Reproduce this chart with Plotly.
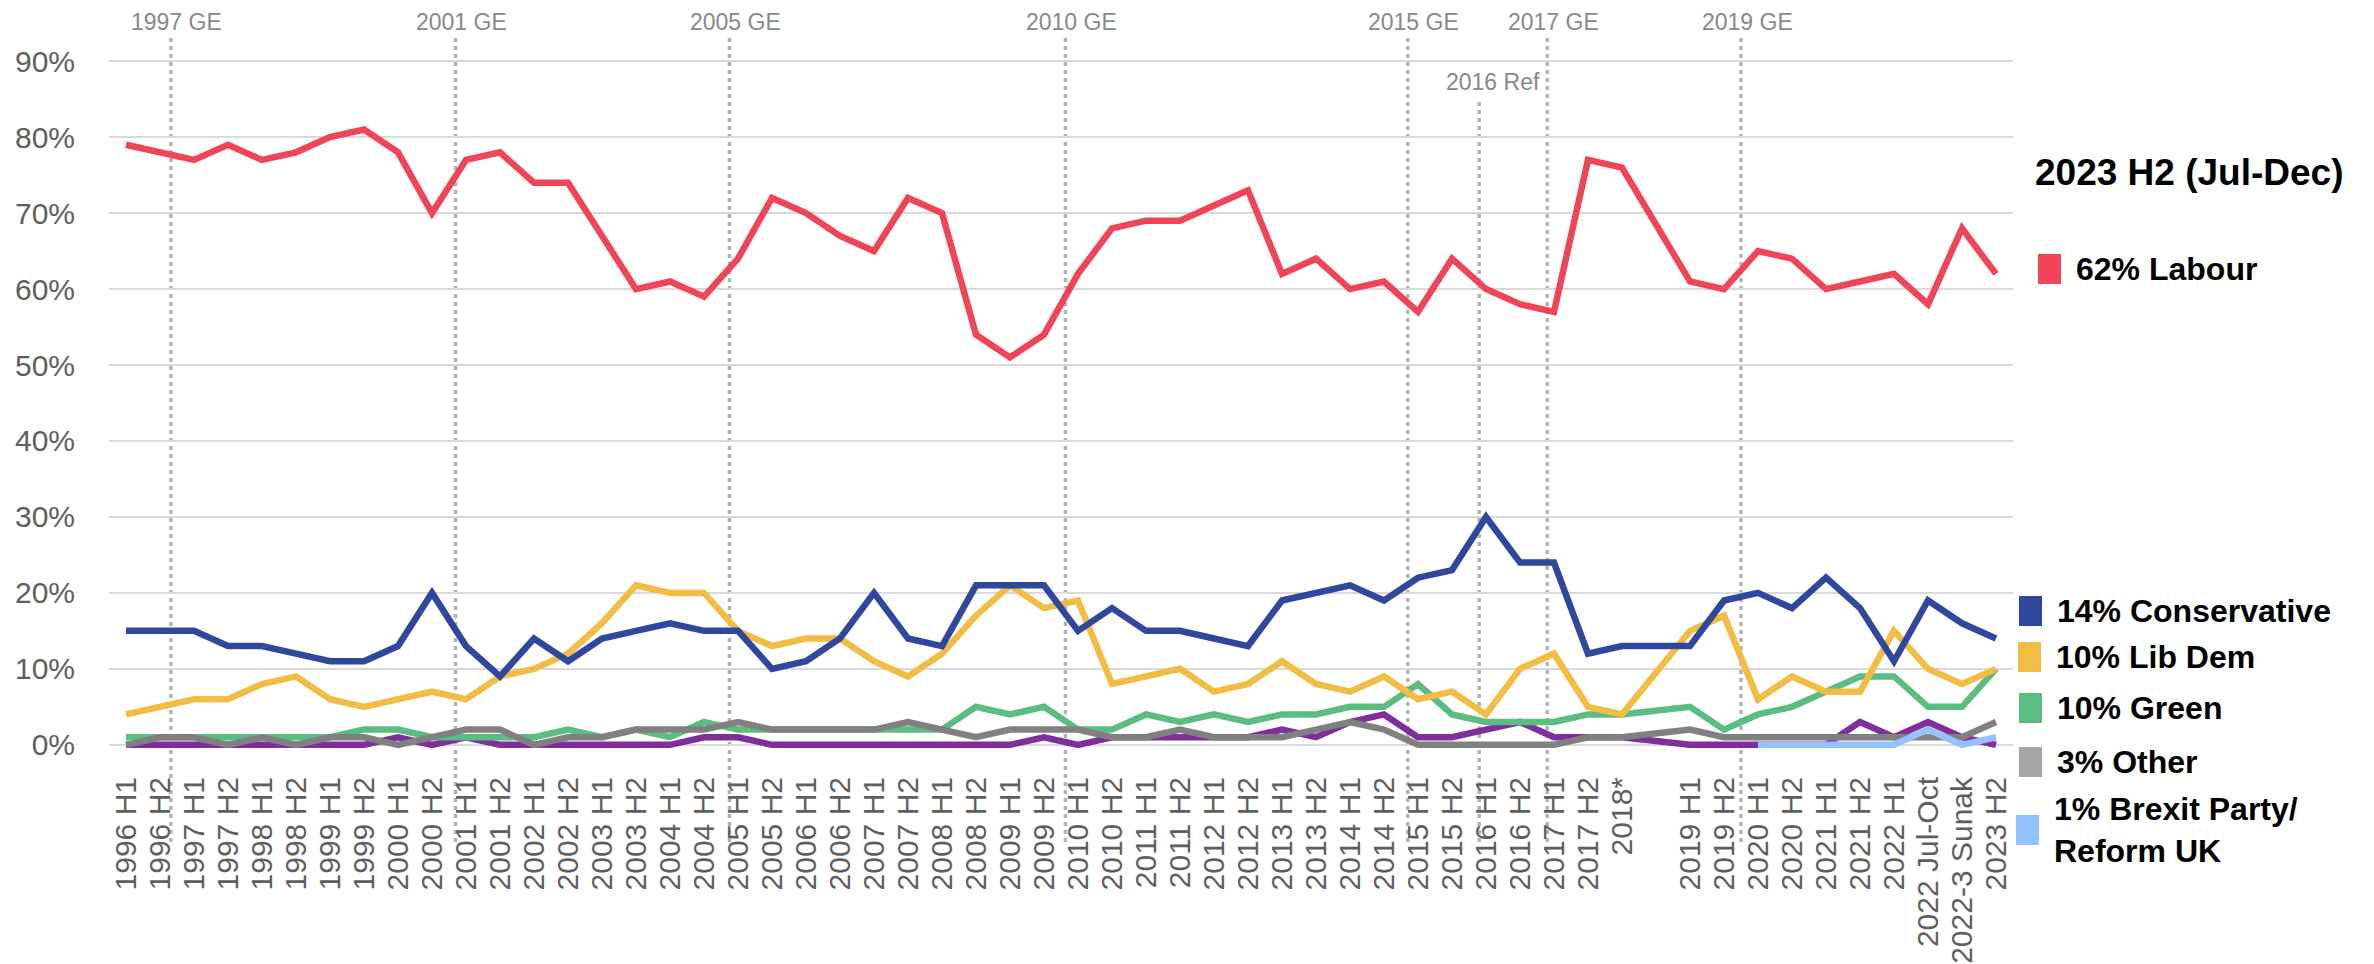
import plotly.graph_objects as go

# ---------------- data ----------------
categories = [
    "1996 H1", "1996 H2", "1997 H1", "1997 H2", "1998 H1", "1998 H2", "1999 H1", "1999 H2",
    "2000 H1", "2000 H2", "2001 H1", "2001 H2", "2002 H1", "2002 H2", "2003 H1", "2003 H2",
    "2004 H1", "2004 H2", "2005 H1", "2005 H2", "2006 H1", "2006 H2", "2007 H1", "2007 H2",
    "2008 H1", "2008 H2", "2009 H1", "2009 H2", "2010 H1", "2010 H2", "2011 H1", "2011 H2",
    "2012 H1", "2012 H2", "2013 H1", "2013 H2", "2014 H1", "2014 H2", "2015 H1", "2015 H2",
    "2016 H1", "2016 H2", "2017 H1", "2017 H2", "2018*", " ", "2019 H1", "2019 H2",
    "2020 H1", "2020 H2", "2021 H1", "2021 H2", "2022 H1", "2022 Jul-Oct", "2022-3 Sunak", "2023 H2",
]

labour = [79, 78, 77, 79, 77, 78, 80, 81, 78, 70,
          77, 78, 74, 74, 67, 60, 61, 59, 64, 72,
          70, 67, 65, 72, 70, 54, 51, 54, 62, 68,
          69, 69, 71, 73, 62, 64, 60, 61, 57, 64,
          60, 58, 57, 77, 76, None, 61, 60, 65, 64,
          60, 61, 62, 58, 68, 62]

conservative = [15, 15, 15, 13, 13, 12, 11, 11, 13, 20,
                13, 9, 14, 11, 14, 15, 16, 15, 15, 10,
                11, 14, 20, 14, 13, 21, 21, 21, 15, 18,
                15, 15, 14, 13, 19, 20, 21, 19, 22, 23,
                30, 24, 24, 12, 13, None, 13, 19, 20, 18,
                22, 18, 11, 19, 16, 14]

lib_dem = [4, 5, 6, 6, 8, 9, 6, 5, 6, 7,
           6, 9, 10, 12, 16, 21, 20, 20, 15, 13,
           14, 14, 11, 9, 12, 17, 21, 18, 19, 8,
           9, 10, 7, 8, 11, 8, 7, 9, 6, 7,
           4, 10, 12, 5, 4, None, 15, 17, 6, 9,
           7, 7, 15, 10, 8, 10]

green = [1, 1, 1, 1, 1, 1, 1, 2, 2, 1,
         1, 1, 1, 2, 1, 2, 1, 3, 2, 2,
         2, 2, 2, 2, 2, 5, 4, 5, 2, 2,
         4, 3, 4, 3, 4, 4, 5, 5, 8, 4,
         3, 3, 3, 4, 4, None, 5, 2, 4, 5,
         7, 9, 9, 5, 5, 10]

other = [0, 1, 1, 0, 1, 0, 1, 1, 0, 1,
         2, 2, 0, 1, 1, 2, 2, 2, 3, 2,
         2, 2, 2, 3, 2, 1, 2, 2, 2, 1,
         1, 2, 1, 1, 1, 2, 3, 2, 0, 0,
         0, 0, 0, 1, 1, None, 2, 1, 1, 1,
         1, 1, 1, 1, 1, 3]

ukip = [0, 0, 0, 0, 0, 0, 0, 0, 1, 0,
        1, 0, 0, 0, 0, 0, 0, 1, 1, 0,
        0, 0, 0, 0, 0, 0, 0, 1, 0, 1,
        1, 1, 1, 1, 2, 1, 3, 4, 1, 1,
        2, 3, 1, 1, 1, None, 0, 0, 0, 0,
        0, 3, 1, 3, 1, 0]

reform = [None] * 48 + [0, 0, 0, 0, 0, 2, 0, 1]

event_names = ["1997 GE", "2001 GE", "2005 GE", "2010 GE", "2015 GE", "2016 Ref", "2017 GE", "2019 GE"]
event_pos = [1.32, 9.69, 17.75, 27.63, 37.7, 39.8, 41.8, 47.5]

legend_title = "2023 H2 (Jul-Dec)"

# ---------------- styling ----------------
PAGE_W, PAGE_H = 2374, 964
BODY = 8  # default page margin around the plot div
W, H = PAGE_W - BODY, PAGE_H - BODY
# plot area in page pixels
L, R, T, B = 109, 2013, 46, 760
PW, PH = R - L, B - T


def py(p):
    return (B - p) / PH


def px(p):
    return (p - L) / PW


FONT = "Liberation Sans, Arial, Helvetica, sans-serif"
C_LAB = "#F04458"
C_CON = "#2F479D"
C_LD = "#F1BD45"
C_GRN = "#5CBD82"
C_OTH = "#808080"
C_OTH_KEY = "#A6A6A6"
C_UKIP = "#7F2F9B"
C_REF = "#93C3FF"
LW = 6.5

fig = go.Figure()

series = [
    (ukip, C_UKIP, "UKIP"),
    (green, C_GRN, "Green"),
    (other, C_OTH, "Other"),
    (reform, C_REF, "Brexit Party/Reform UK"),
    (lib_dem, C_LD, "Lib Dem"),
    (conservative, C_CON, "Conservative"),
    (labour, C_LAB, "Labour"),
]
for vals, col, name in series:
    fig.add_trace(go.Scatter(
        x=categories, y=vals, mode="lines", name=name,
        line=dict(color=col, width=LW), connectgaps=True,
        showlegend=False, hoverinfo="skip",
    ))

shapes = []
annotations = []

# event lines
for name, pos in zip(event_names, event_pos):
    top = 100 if name == "2016 Ref" else 34
    shapes.append(dict(type="line", xref="x", yref="paper", x0=pos, x1=pos,
                       y0=py(842), y1=py(top),
                       line=dict(color="#B3B3B3", width=3.5, dash="4px,4px"), layer="below"))
    if name == "2016 Ref":
        annotations.append(dict(xref="x", yref="paper", x=pos, y=py(82), text=name,
                                showarrow=False, xanchor="center", yanchor="middle", xshift=14,
                                borderpad=0, font=dict(family=FONT, size=23, color="#888888")))
    else:
        annotations.append(dict(xref="x", yref="paper", x=pos, y=py(22), text=name,
                                showarrow=False, xanchor="center", yanchor="middle", xshift=6,
                                borderpad=0, font=dict(family=FONT, size=23, color="#888888")))

# legend (custom, right side)
annotations.append(dict(xref="paper", yref="paper", x=px(2033), y=py(172), text="<b>" + legend_title + "</b>",
                        showarrow=False, xanchor="left", yanchor="middle",
                        font=dict(family=FONT, size=37, color="#000000")))

legend_items = [
    (f"{labour[-1]}% Labour", C_LAB, 269, 2038),
    (f"{conservative[-1]}% Conservative", C_CON, 611, 2019),
    (f"{lib_dem[-1]}% Lib Dem", C_LD, 657, 2018),
    (f"{green[-1]}% Green", C_GRN, 708, 2019),
    (f"{other[-1]}% Other", C_OTH_KEY, 762, 2019),
    (f"{reform[-1]}% Brexit Party/<br>Reform UK", C_REF, 830, 2016),
]
for text, col, cy, sx in legend_items:
    shapes.append(dict(type="rect", xref="paper", yref="paper",
                       x0=px(sx), x1=px(sx + 23), y0=py(cy + 15), y1=py(cy - 15),
                       fillcolor=col, line=dict(width=0)))
    annotations.append(dict(xref="paper", yref="paper", x=px(sx + 36), y=py(cy), text="<b>" + text + "</b>",
                            showarrow=False, xanchor="left", yanchor="middle", align="left",
                            font=dict(family=FONT, size=32, color="#000000")))

fig.update_layout(
    width=W, height=H,
    margin=dict(l=L - BODY, r=PAGE_W - R, t=T - BODY, b=PAGE_H - B, pad=0),
    paper_bgcolor="white", plot_bgcolor="white",
    shapes=shapes, annotations=annotations,
    xaxis=dict(type="category", categoryorder="array", categoryarray=categories,
               range=[-0.5, len(categories) - 0.5], automargin=False,
               tickmode="array", tickvals=categories, ticktext=categories,
               tickangle=-90, showgrid=False, zeroline=False, showline=False,
               ticks="outside", ticklen=4, tickcolor="rgba(0,0,0,0)",
               tickfont=dict(family=FONT, size=30, color="#5E5E5E")),
    yaxis=dict(range=[-2, 92], tickvals=list(range(0, 91, 10)), automargin=False,
               ticktext=[f"{v}%" for v in range(0, 91, 10)],
               showgrid=True, gridcolor="#D9D9D9", gridwidth=2, zeroline=False,
               showline=False, ticks="outside", ticklen=27, tickcolor="rgba(0,0,0,0)",
               tickfont=dict(family=FONT, size=30, color="#5E5E5E")),
    showlegend=False,
)

fig.write_html("out.html")
